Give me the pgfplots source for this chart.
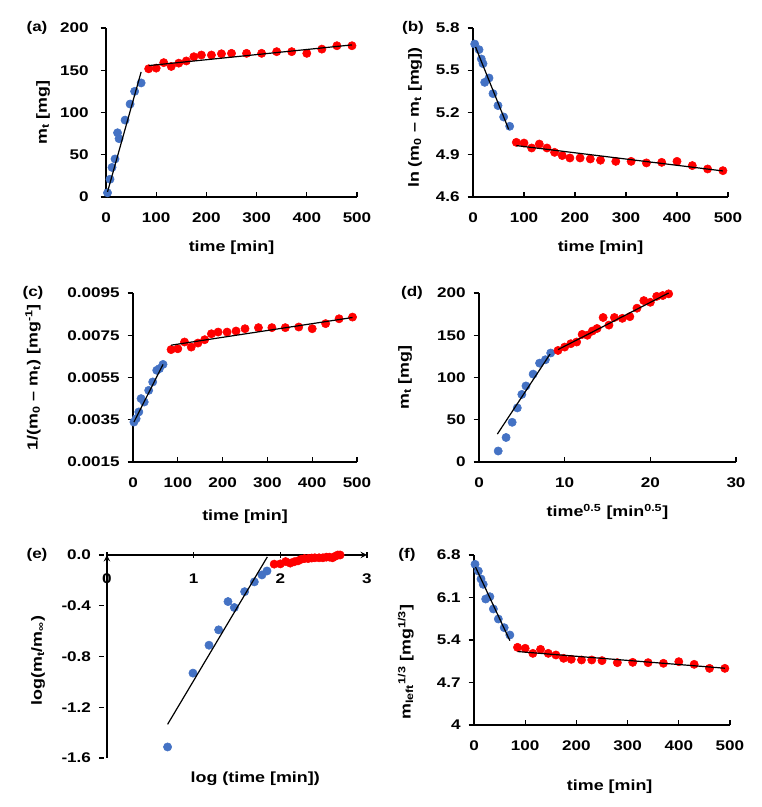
\documentclass[border=0pt]{standalone}
\usepackage{fontspec}
\setmainfont[FakeStretch=1.22]{Liberation Sans}
\usepackage{pgfplots}
\pgfplotsset{compat=1.18}
\definecolor{eblue}{HTML}{4472C4}
\definecolor{ered}{HTML}{FF0000}
\newcommand{\ff}{\fontsize{10.5}{12}\selectfont\bfseries}
\newcommand{\fl}{\fontsize{11}{13}\selectfont\bfseries}
\pgfplotsset{
  panel/.style={
    scale only axis,
    axis lines=left,
    axis line style={-, line width=1.1pt},
    tick align=inside,
    major tick length=4pt,
    tick style={line width=1pt, black},
    y tick style={xshift=-4pt},
    font=\fl,
    tick label style={font=\ff},
    label style={font=\fl},
    /pgf/number format/assume math mode=true,
    xticklabel style={yshift=-8.5pt},
    yticklabel style={xshift=-6.5pt},
    clip=false,
    clip marker paths=true,
    xlabel style={at={(axis description cs:0.5,-0.30)},anchor=center},
  },
  bl/.style={only marks, mark=*, mark size=3.1pt, color=eblue, mark options={draw=eblue, fill=eblue}},
  rd/.style={only marks, mark=*, mark size=3.1pt, color=ered, mark options={draw=ered, fill=ered}},
  fit/.style={black, line width=0.9pt, no marks},
}
\begin{document}
\begin{tikzpicture}
\path[use as bounding box] (0,0) rectangle (570.75pt,605.25pt);

% (a)
\begin{axis}[panel, name=a, at={(79.5pt,457.5pt)}, anchor=south west,
  width=188.25pt, height=126.75pt,
  xmin=0, xmax=500, ymin=0, ymax=200,
  xtick={0,100,...,500}, ytick={0,50,...,200},
  yticklabel style={xshift=-3pt},
  xlabel={time [min]}, ylabel={m\textsubscript{t} [mg]},
  ylabel style={at={(axis description cs:-0.251,0.5)},anchor=center}]
\addplot[bl] coordinates {(3,5) (8,21) (12,35) (18,45) (23,76) (26,69) (38,91) (48,110) (57,125) (70,135)};
\addplot[rd] coordinates {(85,151.7) (100,152.5) (115,159) (130,154.5) (145,158.4) (160,161) (175,166) (190,168) (210,168) (230,169.5) (250,170) (280,170) (310,170) (340,172) (370,172) (400,170) (430,175) (460,179) (490,179)};
\addplot[fit] coordinates {(3,6) (70,148)};
\addplot[fit] coordinates {(85,155.5) (490,180)};
\end{axis}
\node[font=\ff] at ([xshift=-51.75pt]a.north west) {(a)};

% (b)
\begin{axis}[panel, name=b, at={(354.75pt,457.5pt)}, anchor=south west,
  width=191.25pt, height=126.75pt,
  xmin=0, xmax=500, ymin=4.6, ymax=5.8,
  xtick={0,100,...,500}, ytick={4.6,4.9,5.2,5.5,5.8},
  yticklabel style={/pgf/number format/.cd, fixed, fixed zerofill, precision=1},
  xlabel={time [min]}, ylabel={ln (m\textsubscript{0} – m\textsubscript{t} [mg])},
  ylabel style={at={(axis description cs:-0.227,0.47)},anchor=center}]
\addplot[bl] coordinates {(3.3,5.686) (11.8,5.646) (16.3,5.58) (19.6,5.547) (22.9,5.414) (31.4,5.445) (39.2,5.334) (49,5.249) (60.1,5.168) (71.9,5.102)};
\addplot[rd] coordinates {(85,4.988) (100,4.983) (115,4.948) (130,4.976) (145,4.948) (160,4.917) (175,4.894) (190,4.877) (210,4.877) (230,4.870) (250,4.861) (280,4.853) (310,4.853) (340,4.842) (370,4.846) (400,4.853) (430,4.823) (460,4.799) (490,4.787)};
\addplot[fit] coordinates {(5,5.665) (70,5.08)};
\addplot[fit] coordinates {(85,4.965) (490,4.785)};
\end{axis}
\node[font=\ff] at ([xshift=-45pt]b.north west) {(b)};

% (c)
\begin{axis}[panel, name=c, at={(99.75pt,258.75pt)}, anchor=south west,
  width=168pt, height=126.75pt,
  xmin=0, xmax=500, ymin=0.0015, ymax=0.0095,
  xtick={0,100,...,500}, ytick={0.0015,0.0035,0.0055,0.0075,0.0095},
  yticklabel style={/pgf/number format/.cd, fixed, fixed zerofill, precision=4},
  scaled y ticks=false,
  xlabel={time [min]}, ylabel={1/(m\textsubscript{0} – m\textsubscript{t}) [mg\textsuperscript{-1}]},
  xlabel style={at={(axis description cs:0.5,-0.325)},anchor=center},
  ylabel style={at={(axis description cs:-0.446,0.5)},anchor=center}]
\addplot[bl] coordinates {(2,0.00339) (7,0.00355) (13,0.00387) (18,0.00450) (25,0.00434) (35,0.00489) (44,0.00529) (53,0.00584) (59,0.00592) (67,0.00612)};
\addplot[rd] coordinates {(85,0.00682) (100,0.00686) (115,0.00718) (130,0.00694) (145,0.00713) (160,0.00729) (175,0.00757) (190,0.00765) (210,0.00765) (230,0.00770) (250,0.00781) (280,0.00786) (310,0.00786) (340,0.00786) (370,0.00789) (400,0.00781) (430,0.00805) (460,0.00828) (490,0.00836)};
\addplot[fit] coordinates {(2,0.00339) (67,0.00612)};
\addplot[fit] coordinates {(85,0.00703) (490,0.00834)};
\end{axis}
\node[font=\ff] at ([xshift=-75pt]c.north west) {(c)};

% (d)
\begin{axis}[panel, name=d, at={(359.25pt,258.75pt)}, anchor=south west,
  width=192.75pt, height=126.75pt,
  xmin=0, xmax=30, ymin=0, ymax=200,
  xtick={0,10,20,30}, ytick={0,50,...,200},
  xlabel={time\textsuperscript{0.5} [min\textsuperscript{0.5}]}, ylabel={m\textsubscript{t} [mg]},
  xlabel style={at={(axis description cs:0.5,-0.296)},anchor=center},
  ylabel style={at={(axis description cs:-0.288,0.5)},anchor=center}]
\addplot[bl] coordinates {(2.24,13) (3.16,29) (3.87,47) (4.47,64) (5.0,80) (5.48,90) (6.32,104) (7.07,117) (7.75,121) (8.37,129)};
\addplot[rd] coordinates {(9.22,132) (10,136) (10.72,140) (11.4,142) (12.04,151) (12.65,150) (13.23,155) (13.78,158) (14.49,171) (15.17,162) (15.81,171) (16.73,170) (17.61,172) (18.44,182) (19.24,191) (20,189) (20.74,196) (21.45,197) (22.14,199)};
\addplot[fit] coordinates {(2.14,33) (8.29,127.7)};
\addplot[fit] coordinates {(9.22,133) (22.14,200)};
\end{axis}
\node[font=\ff] at ([xshift=-50.25pt]d.north west) {(d)};

% (e)
\begin{axis}[panel, name=e, at={(80.25pt,36.75pt)}, anchor=south west,
  width=195pt, height=152.25pt,
  axis x line=middle, axis y line=left,
  hide obscured x ticks=false, hide obscured y ticks=false,
  xmin=0, xmax=3, ymin=-1.6, ymax=0,
  xtick={0,1,2,3}, ytick={-1.6,-1.2,-0.8,-0.4,0},
  yticklabel style={/pgf/number format/.cd, fixed, fixed zerofill, precision=1},
  xlabel={log (time [min])}, ylabel={log(m\textsubscript{t}/m\textsubscript{∞})},
  xlabel style={at={(axis description cs:0.57,-0.10)},anchor=center},
  ylabel style={at={(axis description cs:-0.265,0.48)},anchor=center}]
\addplot[bl] coordinates {(0.699,-1.513) (0.992,-0.931) (1.177,-0.711) (1.288,-0.590) (1.396,-0.367) (1.469,-0.414) (1.588,-0.289) (1.70,-0.212) (1.788,-0.157) (1.846,-0.126)};
\addplot[rd] coordinates {(1.929,-0.072) (2.0,-0.070) (2.061,-0.052) (2.114,-0.064) (2.161,-0.053) (2.204,-0.046) (2.243,-0.033) (2.279,-0.028) (2.322,-0.028) (2.362,-0.024) (2.398,-0.022) (2.447,-0.022) (2.491,-0.022) (2.531,-0.017) (2.568,-0.017) (2.602,-0.022) (2.633,-0.010) (2.663,0) (2.690,0)};
\addplot[fit] coordinates {(0.699,-1.335) (1.85,-0.015)};
\end{axis}
\node[font=\ff] at ([xshift=-52.5pt]e.north west) {(e)};

% (f)
\begin{axis}[panel, name=f, at={(355.5pt,61.5pt)}, anchor=south west,
  width=192pt, height=127.5pt,
  xmin=0, xmax=500, ymin=4, ymax=6.8,
  xtick={0,100,...,500}, ytick={4,4.7,5.4,6.1,6.8},
  yticklabel style={/pgf/number format/.cd, fixed, precision=1},
  xlabel={time [min]}, ylabel={m\textsubscript{left}\textsuperscript{1/3} [mg\textsuperscript{1/3}]},
  xlabel style={at={(axis description cs:0.53,-0.365)},anchor=center},
  ylabel style={at={(axis description cs:-0.266,0.37)},anchor=center}]
\addplot[bl] coordinates {(2,6.647) (8.5,6.536) (13.7,6.405) (18,6.317) (22.8,6.075) (31,6.113) (37.8,5.911) (47.5,5.746) (59,5.603) (70,5.482)};
\addplot[rd] coordinates {(85,5.279) (100,5.263) (115,5.180) (130,5.246) (145,5.180) (160,5.153) (175,5.098) (190,5.082) (210,5.071) (230,5.071) (250,5.060) (280,5.027) (310,5.032) (340,5.027) (370,5.016) (400,5.043) (430,4.999) (460,4.933) (490,4.933)};
\addplot[fit] coordinates {(3,6.60) (70,5.39)};
\addplot[fit] coordinates {(85,5.21) (490,4.935)};
\end{axis}
\node[font=\ff] at ([xshift=-50.25pt]f.north west) {(f)};
\end{tikzpicture}
\end{document}
